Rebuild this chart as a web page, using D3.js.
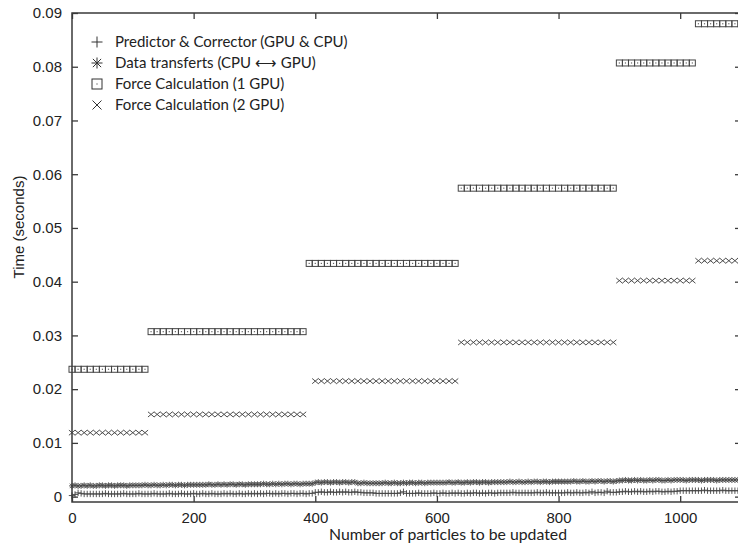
<!DOCTYPE html>
<html>
<head>
<meta charset="utf-8">
<script src="https://cdn.jsdelivr.net/npm/d3@7"></script>
<style>
  body { margin: 0; background: #fff; }
  svg { display: block; }
  .tick text { font-family: "Liberation Sans", Arial, sans-serif; font-size: 15px; fill: #222; }
</style>
</head>
<body>
<div id="chart"></div>
<script>
// Valeurs (temps en unités de 1e-4 s)
const xTicks = [0, 200, 400, 600, 800, 1000];
const yTicks = [0, 0.01, 0.02, 0.03, 0.04, 0.05, 0.06, 0.07, 0.08, 0.09];

// points tous les 10 particules (0..1100)
const coarseStep = 10;
const force1Gpu = [
  237,237,237,237,237,237,237,237,237,237,237,237,237,
  307,307,307,307,307,307,307,307,307,307,307,307,307,307,307,307,307,307,307,307,307,307,307,307,307,307,
  434,434,434,434,434,434,434,434,434,434,434,434,434,434,434,434,434,434,434,434,434,434,434,434,434,
  574,574,574,574,574,574,574,574,574,574,574,574,574,574,574,574,574,574,574,574,574,574,574,574,574,574,
  807,807,807,807,807,807,807,807,807,807,807,807,807,
  880,880,880,880,880,880,880,880
];
const force2Gpu = [
  119,119,119,119,119,119,119,119,119,119,119,119,119,
  153,153,153,153,153,153,153,153,153,153,153,153,153,153,153,153,153,153,153,153,153,153,153,153,153,153,
  null,
  215,215,215,215,215,215,215,215,215,215,215,215,215,215,215,215,215,215,215,215,215,215,215,215,
  287,287,287,287,287,287,287,287,287,287,287,287,287,287,287,287,287,287,287,287,287,287,287,287,287,287,
  402,402,402,402,402,402,402,402,402,402,402,402,402,
  439,439,439,439,439,439,439,439
];

// points tous les 5 particules (0..1100)
const fineStep = 5;
const dataTransfers = [
  20,21,20,20,21,20,21,20,20,21,21,20,21,21,20,21,21,21,20,21,
  21,21,21,21,22,21,21,22,21,21,22,21,22,22,21,22,22,21,22,22,
  22,22,22,22,22,23,22,22,23,22,23,22,23,23,22,23,23,22,23,23,
  23,23,23,24,23,23,24,23,24,23,24,24,23,24,24,23,24,24,24,24,
  26,27,26,27,27,26,27,27,26,27,27,26,27,27,25,25,26,25,25,25,
  25,25,25,26,25,25,26,25,25,26,25,26,26,25,26,26,25,26,26,26,
  26,26,26,26,27,26,26,27,26,26,27,26,27,27,26,27,27,26,27,27,
  27,27,27,27,28,27,27,28,27,27,28,27,28,28,27,28,28,27,28,28,
  28,28,28,28,28,29,28,28,29,28,28,29,28,29,29,28,29,29,28,29,
  30,30,31,30,30,31,30,31,30,30,31,30,31,31,30,30,31,30,31,31,
  31,31,30,31,31,31,31,30,31,31,31,31,30,31,31,31,31,31,31,31,
  31
];
const predictorCorrector = [
  2,4,7,6,5,5,5,5,5,5,5,6,5,5,5,5,5,6,5,5,
  5,5,6,5,5,5,5,6,5,5,5,5,6,5,5,5,6,5,5,5,
  6,5,5,6,5,5,6,5,5,5,6,5,6,5,5,6,5,5,6,5,
  6,5,6,5,6,6,5,6,5,6,6,5,6,6,5,6,6,5,6,6,
  8,8,9,8,8,9,8,8,9,8,9,8,8,9,8,8,7,7,7,7,
  6,6,6,6,6,6,6,6,7,9,6,6,6,6,7,6,6,6,6,7,
  6,6,7,6,6,7,6,7,6,6,7,6,7,7,6,7,6,7,7,6,
  7,7,7,7,7,8,7,7,7,7,7,7,7,8,7,7,8,7,7,7,
  7,7,7,8,7,7,8,7,7,8,7,9,7,8,8,7,10,8,8,8,
  9,9,10,9,9,10,9,10,9,9,10,9,10,10,9,9,10,9,10,10,
  11,11,11,11,11,11,11,11,12,11,11,11,11,11,12,11,11,11,11,11,
  11
];

const legendLabels = [
  'Predictor & Corrector (GPU & CPU)',
  'Data transferts (CPU \u27F7 GPU)',
  'Force Calculation (1 GPU)',
  'Force Calculation (2 GPU)'
];

const W = 738, H = 543;
const plot = { left: 72, right: 741, top: 13, bottom: 502 };
const ink = '#3a3a3a';

const svg = d3.select('#chart').append('svg')
  .attr('width', W).attr('height', H);

const x = d3.scaleLinear().domain([0, 1100]).range([plot.left, plot.right]);
const y = d3.scaleLinear().domain([-0.001, 0.09]).range([plot.bottom, plot.top]);

const toPoints = (vals, step) => vals
  .map((v, i) => ({ px: i * step, v: v == null ? null : v * 1e-4 }))
  .filter(d => d.v != null);

// formes des marqueurs
function drawPlus(g, s) {
  g.append('path').attr('d', `M${-s},0H${s}M0,${-s}V${s}`);
}
function drawCross(g, s, sy) {
  g.append('path').attr('d', `M${-s},${-sy}L${s},${sy}M${-s},${sy}L${s},${-sy}`);
}
function drawStar(g, s) {
  const d = s * 0.75;
  g.append('path').attr('d', `M${-s},0H${s}M0,${-s}V${s}M${-d},${-d}L${d},${d}M${-d},${d}L${d},${-d}`);
}
function drawBox(g, s) {
  g.append('rect').attr('x', -s).attr('y', -s).attr('width', 2 * s).attr('height', 2 * s)
    .attr('fill', 'none');
  g.append('rect').attr('x', -0.6).attr('y', -0.6).attr('width', 1.2).attr('height', 1.2)
    .attr('fill', '#666').attr('stroke', 'none');
}

const series = [
  { data: toPoints(predictorCorrector, fineStep), draw: g => drawPlus(g, 3.2), color: '#444', w: 0.9 },
  { data: toPoints(dataTransfers, fineStep), draw: g => drawStar(g, 3), color: '#444', w: 0.85 },
  { data: toPoints(force1Gpu, coarseStep), draw: g => drawBox(g, 3), color: '#444', w: 1 },
  { data: toPoints(force2Gpu, coarseStep), draw: g => drawCross(g, 3.1, 2.6), color: '#444', w: 0.95 }
];

const marks = svg.append('g');
series.forEach(s => {
  marks.append('g')
    .attr('fill', 'none').attr('stroke', s.color).attr('stroke-width', s.w)
    .selectAll('g').data(s.data).enter().append('g')
    .attr('transform', d => `translate(${x(d.px)},${y(d.v)})`)
    .each(function () { s.draw(d3.select(this)); });
});

// cadre et graduations (vers l'intérieur, style gnuplot)
const fmtY = d => d === 0 ? '0' : d3.format('.2f')(d);
const fmtX = d3.format('d');

const axL = svg.append('g').attr('transform', `translate(${plot.left},0)`)
  .call(d3.axisLeft(y).tickValues(yTicks).tickFormat(fmtY).tickSizeInner(-6).tickSizeOuter(0).tickPadding(10));
const axB = svg.append('g').attr('transform', `translate(0,${plot.bottom})`)
  .call(d3.axisBottom(x).tickValues(xTicks).tickFormat(fmtX).tickSizeInner(-6).tickSizeOuter(0).tickPadding(10));
const axT = svg.append('g').attr('transform', `translate(0,${plot.top})`)
  .call(d3.axisTop(x).tickValues(xTicks).tickFormat('').tickSizeInner(-6).tickSizeOuter(0));
const axR = svg.append('g').attr('transform', `translate(${plot.right},0)`)
  .call(d3.axisRight(y).tickValues(yTicks).tickFormat('').tickSizeInner(-6).tickSizeOuter(0));

[axL, axB, axT, axR].forEach(a => {
  a.select('.domain').remove();
  a.selectAll('.tick line').attr('stroke', ink).attr('stroke-width', 1.3);
});

svg.append('rect')
  .attr('x', plot.left).attr('y', plot.top)
  .attr('width', plot.right - plot.left).attr('height', plot.bottom - plot.top)
  .attr('fill', 'none').attr('stroke', ink).attr('stroke-width', 1.5);

// titres des axes
svg.append('text')
  .attr('transform', `translate(24,227) rotate(-90)`)
  .attr('text-anchor', 'middle')
  .style('font-family', '"Liberation Sans", Arial, sans-serif')
  .style('font-size', '15px').style('fill', '#222')
  .text('Time (seconds)');

svg.append('text')
  .attr('x', 448).attr('y', 540)
  .attr('text-anchor', 'middle')
  .style('font-family', 'Lato, "Open Sans", sans-serif')
  .style('font-size', '15.8px').style('fill', '#222')
  .text('Number of particles to be updated');

// légende
const legend = svg.append('g').attr('transform', 'translate(97,42)');
const legendDraw = [
  g => drawPlus(g, 5.5),
  g => drawStar(g, 5.5),
  g => drawBox(g, 5),
  g => drawCross(g, 4.5, 4.5)
];
legendLabels.forEach((lab, i) => {
  const row = legend.append('g').attr('transform', `translate(0,${i * 21})`);
  const sym = row.append('g').attr('fill', 'none').attr('stroke', '#333').attr('stroke-width', 1);
  legendDraw[i](sym);
  row.append('text')
    .attr('x', 18).attr('dy', '0.35em')
    .style('font-family', 'Lato, "Open Sans", sans-serif')
    .style('font-size', '15px').style('fill', '#222')
    .text(lab);
});
</script>
</body>
</html>
